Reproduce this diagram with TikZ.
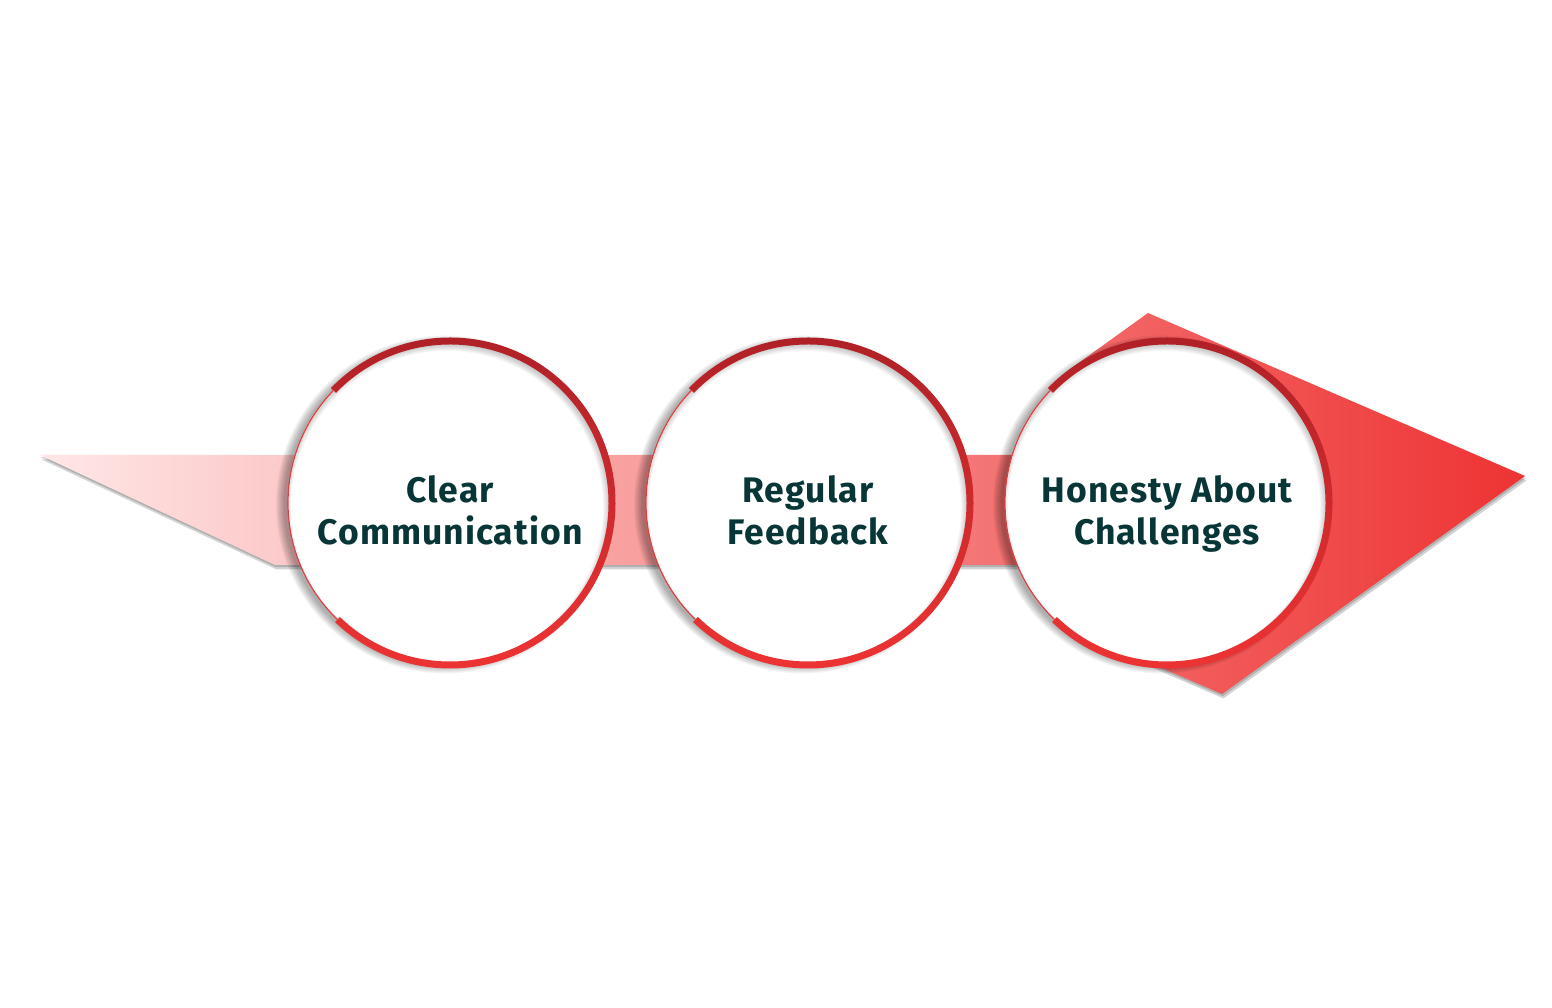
\documentclass[tikz,border=0pt]{standalone}
\usepackage{fontspec}
\setmainfont{Fira Sans}[LetterSpace=3]
\usetikzlibrary{calc}
\definecolor{ringtop}{RGB}{172,32,38}
\definecolor{ringbot}{RGB}{240,52,52}
\definecolor{ringthin}{RGB}{232,60,60}
\definecolor{bandL}{RGB}{255,231,231}
\definecolor{bandR}{RGB}{238,51,51}
\definecolor{txt}{RGB}{8,54,55}
\tikzset{
  lbl/.style={font=\fontsize{35.5}{42}\selectfont\bfseries, text=txt, anchor=base, inner sep=0pt},
  bandshadow/.style={fill=black, opacity=0.17},
}
\begin{document}
\begin{tikzpicture}[x=1pt,y=1pt]
\useasboundingbox (0,0) rectangle (1552,1008);
\fill[white] (0,0) rectangle (1552,1008);
% shadows of band and arrow head
\foreach \dx/\dy in {1.5/-4.5, 0.8/-2.2} {
  \begin{scope}[shift={(\dx,\dy)}]
    \path[bandshadow] (40,553) -- (1110,553) -- (1110,443) -- (275,443) -- cycle
      (1148,695) -- (1525,532) -- (1222,314) -- (1106,364) -- (1120,505) -- (1070.5,639.2) -- cycle;
  \end{scope}
}
% band and arrow head
\shade[left color=bandL, right color=bandR]
  (40,553) -- (1110,553) -- (1110,443) -- (275,443) -- cycle
  (1148,695) -- (1525,532) -- (1222,314) -- (1106,364) -- (1120,505) -- (1070.5,639.2) -- cycle;
% circles
\foreach \n/\cx in {1/450, 2/808, 3/1167} {
  \coordinate (c\n) at (\cx,505);
  \foreach \k in {1,...,9}
    \fill[black, opacity=0.04] ($(c\n)+(-5,-1.5)$) circle[radius=160+\k];
  \fill[white] (c\n) circle[radius=162];
  \begin{scope}
    \clip (c\n) circle[radius=161];
    \foreach \k in {1,...,7}
      \draw[black, opacity=0.03, line width=2*\k] ($(c\n)+(-3,-4)$) circle[radius=163];
  \end{scope}
  \shade[top color=ringtop, bottom color=ringbot]
    ($(c\n)+(-134:165.5)$) arc[start angle=-134, end angle=136, radius=165.5]
    -- ($(c\n)+(136:158.5)$) arc[start angle=136, end angle=-134, radius=158.5] -- cycle;
  \draw[ringthin, line width=1.2] ($(c\n)+(136:162)$) arc[start angle=136, end angle=226, radius=162];
}
\node[lbl] (t1a) at (450,505) {Clear};
\node[lbl] (t1b) at (450,463) {Communication};
\node[lbl] (t2a) at (808,505) {Regular};
\node[lbl] (t2b) at (808,463) {Feedback};
\node[lbl] (t3a) at (1167,505) {Honesty About};
\node[lbl] (t3b) at (1167,463) {Challenges};
\end{tikzpicture}
\end{document}
